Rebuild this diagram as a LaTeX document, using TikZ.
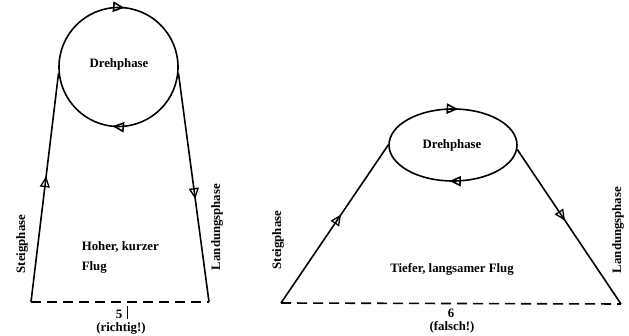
\documentclass[tikz,border=0pt]{standalone}
\usepackage{fontspec}
\setmainfont{Liberation Serif}
\usetikzlibrary{arrows.meta,decorations.markings,shapes.geometric}
\begin{document}
\begin{tikzpicture}[x=1pt,y=-1pt,
  line width=1.6pt,
  lbl/.style={font=\fontsize{12.8}{14}\selectfont\bfseries, inner sep=0pt},
  vlbl/.style={lbl, rotate=90},
  midarrow/.style={postaction=decorate, decoration={markings,
     mark=at position #1 with {\arrow{Triangle[open,length=11pt,width=10pt,line width=1.3pt]}}}},
  midarrowrev/.style={postaction=decorate, decoration={markings,
     mark=at position #1 with {\arrowreversed{Triangle[open,length=11pt,width=10pt,line width=1.3pt]}}}},
  base/.style={dash pattern=on 10pt off 6pt}
]
\useasboundingbox (0,0) rectangle (629,336);
% ---------- left figure ----------
\node[circle, minimum size=119pt, inner sep=0pt] (c1) at (118.5,67) {};
\node[lbl] (d1) at (119,64) {Drehphase};
\draw[midarrowrev=0.235, midarrowrev=0.735] (c1.center) circle[radius=59.5pt];
\coordinate (a1) at (31,302);
\coordinate (b1) at (209,302);
\draw[midarrow=0.55] (a1) -- (c1.186);
\draw[midarrow=0.55] (c1.-6) -- (b1);
\draw[base] (a1) -- (b1);
\node[lbl, anchor=west] (h1) at (81,247) {Hoher, kurzer};
\node[lbl, anchor=west] (f1) at (81,267) {Flug};
\node[vlbl] (s1) at (22,244) {Steigphase};
\node[vlbl] (l1) at (217,227) {Landungsphase};
\node[lbl] (n5) at (119,314) {5};
\coordinate (t1a) at (127.5,306);
\coordinate (t1b) at (127.5,319);
\draw[line width=0.6pt] (t1a) -- (t1b);
\node[lbl] (r1) at (121,328) {(richtig!)};
% ---------- right figure ----------
\node[ellipse, minimum width=128pt, minimum height=72pt, inner sep=0pt] (c2) at (453,145) {};
\node[lbl] (d2) at (452,145) {Drehphase};
\draw[midarrowrev=0.235, midarrowrev=0.74] (c2.center) ellipse[x radius=64pt, y radius=36pt];
\coordinate (a2) at (281,303);
\coordinate (b2) at (621,304);
\draw[midarrow=0.56] (a2) -- (c2.180);
\draw[midarrow=0.46] (c2.-4) -- (b2);
\draw[base] (a2) -- (b2);
\node[lbl] (tf) at (452,269) {Tiefer, langsamer Flug};
\node[vlbl] (s2) at (278,240) {Steigphase};
\node[vlbl] (l2) at (618,230) {Landungsphase};
\node[lbl] (n6) at (451,313) {6};
\node[lbl] (r2) at (452,327) {(falsch!)};
\end{tikzpicture}
\end{document}
